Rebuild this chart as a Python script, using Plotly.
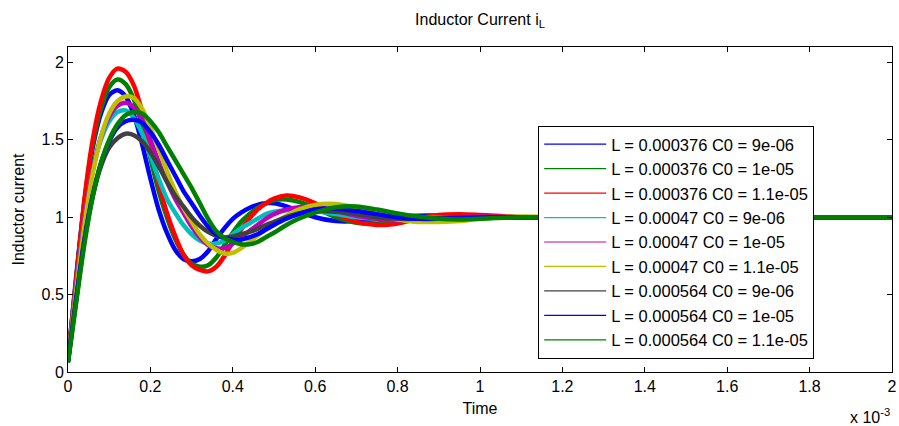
import plotly.graph_objects as go

# time in units of 1e-3 s
time_ms = [0, 0.02, 0.04, 0.06, 0.08, 0.10, 0.12, 0.14, 0.16, 0.18, 0.20, 0.22, 0.24, 0.26, 0.28,
           0.30, 0.32, 0.34, 0.36, 0.38, 0.40, 0.42, 0.44, 0.46, 0.48, 0.50, 0.53, 0.56, 0.60, 0.65,
           0.70, 0.75, 0.80, 0.85, 0.90, 0.95, 1.00, 1.10, 1.20, 1.40, 1.60, 1.80, 2.00]

labels = ["L = 0.000376 C0 = 9e-06", "L = 0.000376 C0 = 1e-05", "L = 0.000376 C0 = 1.1e-05",
          "L = 0.00047 C0 = 9e-06", "L = 0.00047 C0 = 1e-05", "L = 0.00047 C0 = 1.1e-05",
          "L = 0.000564 C0 = 9e-06", "L = 0.000564 C0 = 1e-05", "L = 0.000564 C0 = 1.1e-05"]

colors = ["#0000FF", "#008000", "#FF0000", "#00BFBF", "#BF00BF", "#BFBF00", "#404040", "#0000FF", "#008000"]

i_L376_C9 = [0.08, 0.62, 1.10, 1.45, 1.67, 1.79, 1.82, 1.78, 1.66, 1.47, 1.25, 1.05, 0.90, 0.79, 0.73,
             0.715, 0.73, 0.78, 0.86, 0.93, 0.99, 1.03, 1.06, 1.08, 1.09, 1.09, 1.07, 1.04, 1.00, 0.975,
             0.975, 0.99, 1.005, 1.01, 1.01, 1.005, 1.00, 1.00, 1.00, 1.00, 1.00, 1.00, 1.00]
i_L376_C10 = [0.08, 0.60, 1.10, 1.47, 1.70, 1.84, 1.89, 1.86, 1.76, 1.59, 1.38, 1.17, 1.00, 0.86, 0.76,
              0.70, 0.68, 0.69, 0.74, 0.82, 0.90, 0.97, 1.02, 1.06, 1.09, 1.11, 1.115, 1.10, 1.06, 1.00,
              0.965, 0.96, 0.975, 0.995, 1.01, 1.015, 1.01, 1.00, 1.00, 1.00, 1.00, 1.00, 1.00]
i_L376_C11 = [0.08, 0.60, 1.12, 1.50, 1.75, 1.90, 1.96, 1.94, 1.85, 1.68, 1.45, 1.22, 1.03, 0.88, 0.76,
              0.69, 0.66, 0.65, 0.68, 0.75, 0.84, 0.92, 0.99, 1.05, 1.09, 1.12, 1.14, 1.13, 1.09, 1.02,
              0.97, 0.95, 0.96, 0.99, 1.015, 1.02, 1.015, 1.00, 0.995, 1.00, 1.00, 1.00, 1.00]
i_L470_C9 = [0.07, 0.55, 0.98, 1.30, 1.50, 1.62, 1.68, 1.69, 1.64, 1.54, 1.40, 1.25, 1.12, 1.03, 0.95,
             0.89, 0.85, 0.83, 0.83, 0.85, 0.89, 0.93, 0.96, 0.99, 1.02, 1.035, 1.045, 1.05, 1.04, 1.02,
             1.00, 0.99, 0.99, 0.995, 1.00, 1.00, 1.00, 1.00, 1.00, 1.00, 1.00, 1.00, 1.00]
i_L470_C10 = [0.07, 0.54, 0.97, 1.30, 1.52, 1.65, 1.72, 1.74, 1.71, 1.63, 1.50, 1.36, 1.23, 1.12, 1.03,
              0.94, 0.87, 0.82, 0.80, 0.80, 0.83, 0.87, 0.91, 0.95, 0.99, 1.02, 1.05, 1.065, 1.065, 1.04,
              1.01, 0.99, 0.98, 0.985, 0.995, 1.00, 1.005, 1.00, 1.00, 1.00, 1.00, 1.00, 1.00]
i_L470_C11 = [0.07, 0.52, 0.95, 1.28, 1.52, 1.67, 1.75, 1.78, 1.77, 1.70, 1.58, 1.44, 1.30, 1.17, 1.06,
              0.97, 0.89, 0.83, 0.79, 0.765, 0.77, 0.80, 0.84, 0.88, 0.92, 0.96, 1.01, 1.05, 1.08, 1.085,
              1.06, 1.02, 0.985, 0.97, 0.97, 0.975, 0.99, 1.005, 1.00, 1.00, 1.00, 1.00, 1.00]
i_L564_C9 = [0.07, 0.48, 0.86, 1.14, 1.33, 1.45, 1.51, 1.54, 1.53, 1.49, 1.42, 1.33, 1.23, 1.14, 1.07,
             1.00, 0.945, 0.905, 0.88, 0.87, 0.875, 0.89, 0.905, 0.925, 0.95, 0.97, 1.00, 1.025, 1.04, 1.035,
             1.02, 1.00, 0.99, 0.99, 0.995, 1.00, 1.00, 1.00, 1.00, 1.00, 1.00, 1.00, 1.00]
i_L564_C10 = [0.07, 0.47, 0.85, 1.14, 1.35, 1.49, 1.58, 1.62, 1.63, 1.61, 1.55, 1.47, 1.37, 1.27, 1.17,
              1.09, 1.01, 0.94, 0.89, 0.865, 0.855, 0.855, 0.87, 0.89, 0.92, 0.95, 0.99, 1.02, 1.05, 1.055,
              1.04, 1.02, 1.00, 0.99, 0.99, 0.995, 1.00, 1.00, 1.00, 1.00, 1.00, 1.00, 1.00]
i_L564_C11 = [0.06, 0.45, 0.83, 1.13, 1.35, 1.50, 1.60, 1.66, 1.68, 1.67, 1.62, 1.55, 1.46, 1.37, 1.28,
              1.19, 1.09, 0.99, 0.91, 0.865, 0.84, 0.825, 0.825, 0.84, 0.87, 0.90, 0.95, 0.99, 1.03, 1.065,
              1.07, 1.05, 1.025, 1.005, 0.99, 0.985, 0.99, 1.00, 1.00, 1.00, 1.00, 1.00, 1.00]

series = [i_L376_C9, i_L376_C10, i_L376_C11, i_L470_C9, i_L470_C10, i_L470_C11,
          i_L564_C9, i_L564_C10, i_L564_C11]

x_ticks = [0, 0.2, 0.4, 0.6, 0.8, 1.0, 1.2, 1.4, 1.6, 1.8, 2.0]
x_tick_text = ["0", "0.2", "0.4", "0.6", "0.8", "1", "1.2", "1.4", "1.6", "1.8", "2"]
y_ticks = [0, 0.5, 1, 1.5, 2]
y_tick_text = ["0", "0.5", "1", "1.5", "2"]

FONT = "Liberation Sans, Arial, sans-serif"

fig = go.Figure()
for k, (vals, col, lab) in enumerate(zip(series, colors, labels)):
    fig.add_trace(go.Scatter(x=time_ms, y=vals, mode="lines", name=lab,
                             line=dict(color=col, width=4.5, shape="spline", smoothing=0.8),
                             showlegend=False, legendgroup=str(k), hoverinfo="skip"))
for k, (col, lab) in enumerate(zip(colors, labels)):
    fig.add_trace(go.Scatter(x=[None], y=[None], mode="lines", name=lab,
                             line=dict(color=col, width=1.2),
                             showlegend=True, legendgroup=str(k)))

axis_common = dict(showline=True, linecolor="black", linewidth=1, mirror="ticks",
                   ticks="inside", ticklen=5, tickcolor="black", tickwidth=1,
                   showgrid=False, zeroline=False, ticklabeloverflow="allow",
                   tickfont=dict(family=FONT, size=16, color="black"))

fig.update_layout(
    width=899, height=426,
    margin=dict(l=68, r=2, t=47, b=54),
    paper_bgcolor="white", plot_bgcolor="white",
    font=dict(family=FONT, size=16, color="black"),
    title=dict(text="Inductor Current i<sub>L</sub>", x=0.5, xref="paper", xanchor="center",
               y=0.955, yref="container", yanchor="middle",
               font=dict(family=FONT, size=16, color="black")),
    xaxis=dict(range=[0, 2], tickvals=x_ticks, ticktext=x_tick_text,
               title=dict(text="Time", standoff=8, font=dict(family=FONT, size=16)), **axis_common),
    yaxis=dict(range=[0, 2.1], tickvals=y_ticks, ticktext=y_tick_text,
               title=dict(text="Inductor current", standoff=12, font=dict(family=FONT, size=16)), **axis_common),
    legend=dict(x=0.5706, y=0.757, xanchor="left", yanchor="top",
                bgcolor="white", bordercolor="black", borderwidth=1,
                font=dict(family=FONT, size=16.5, color="black"),
                tracegroupgap=0, itemwidth=62),
    showlegend=True,
)

fig.add_annotation(text="x 10<sup>-3</sup>", xref="paper", yref="paper", x=1.0, y=-0.135,
                   xanchor="right", yanchor="middle", showarrow=False,
                   font=dict(family=FONT, size=16, color="black"))

fig.write_html("out.html")
